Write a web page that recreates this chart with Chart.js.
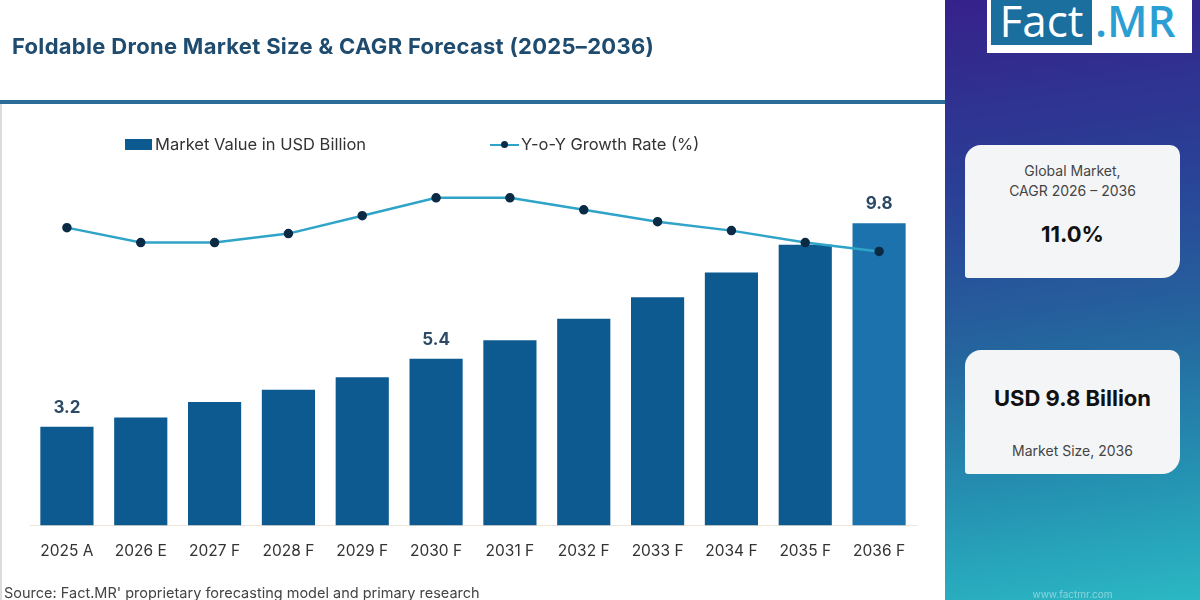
<!DOCTYPE html>
<html>
<head>
<meta charset="utf-8">
<script src="https://cdn.jsdelivr.net/npm/chart.js"></script>
<style>
  html, body { margin: 0; padding: 0; }
  body { width: 1200px; height: 600px; position: relative; overflow: hidden; background: #fff; font-family: Inter, "Open Sans", sans-serif; }
  #chartBox { position: absolute; left: 0; top: 0; width: 945px; height: 600px; }
  .title { position: absolute; left: 12px; top: 33px; font-size: 22px; font-weight: 700; color: #1e4b6e; white-space: nowrap; letter-spacing: 0.3px; }
  .rule { position: absolute; left: 0; top: 100px; width: 945px; height: 4px; background: #2a6b98; }
  .edge { position: absolute; left: 0; top: 104px; width: 2px; height: 496px; background: #dcdcdc; }
  .legend { position: absolute; top: 134px; font-size: 16.5px; color: #333; white-space: nowrap; line-height: 20px; }
  .legend .box { display: inline-block; width: 27px; height: 11px; background: #0c5a8f; vertical-align: middle; margin-right: 3px; position: relative; top: -1px; }
  .legend .ln { display: inline-block; width: 29px; height: 2px; background: #2fa4c8; vertical-align: middle; margin-right: 2px; position: relative; top: -1px; }
  .legend .ln i { position: absolute; left: 11px; top: -3px; width: 7px; height: 7px; border-radius: 50%; background: #0b2a45; }
  .source { position: absolute; left: 4px; top: 584px; font-size: 14.5px; color: #444; white-space: nowrap; }
  .panel { position: absolute; left: 945px; top: 0; width: 255px; height: 600px;
           background: linear-gradient(172deg, #36218a 0%, #2a3f96 30%, #24689f 58%, #2596b4 82%, #2bb8c3 100%); }
  .logo { position: absolute; left: 42px; top: 0; width: 205px; height: 53px; background: #fff; }
  .logo .fact { position: absolute; left: 4px; top: 0; width: 101px; height: 45px; background: #1a6f9e; color: #fff; font-family: "Open Sans", sans-serif; font-size: 44px; line-height: 40px; text-align: center; }
  .logo .mr { position: absolute; left: 108px; top: 0; height: 45px; color: #2b9fd4; font-family: "Open Sans", sans-serif; font-weight: 600; font-size: 44px; line-height: 40px; }
  .card { position: absolute; left: 20px; width: 215px; background: #f4f5f7; border-radius: 16px 10px 18px 3px; text-align: center; color: #333; }
  .card .small { font-size: 14px; color: #444; line-height: 20px; }
  .card .big { font-size: 22px; font-weight: 700; color: #111; }
  .web { position: absolute; left: 0; width: 255px; top: 588px; text-align: center; font-size: 10px; color: rgba(255,255,255,0.45); }
</style>
</head>
<body>
<div id="chartBox"><canvas id="chart" width="945" height="600"></canvas></div>
<div class="title">Foldable Drone Market Size &amp; CAGR Forecast (2025–2036)</div>
<div class="rule"></div>
<div class="edge"></div>
<div class="legend" style="left:125px"><span class="box"></span>Market Value in USD Billion</div>
<div class="legend" style="left:490px"><span class="ln"><i></i></span>Y-o-Y Growth Rate (%)</div>
<div class="source">Source: Fact.MR' proprietary forecasting model and primary research</div>
<div class="panel">
  <div class="logo"><div class="fact">Fact</div><div class="mr">.MR</div></div>
  <div class="card" style="top:145px;height:133px">
    <div class="small" style="margin-top:16px">Global Market,<br>CAGR 2026 – 2036</div>
    <div class="big" style="margin-top:20px">11.0%</div>
  </div>
  <div class="card" style="top:350px;height:124px">
    <div class="big" style="margin-top:35px">USD 9.8 Billion</div>
    <div class="small" style="margin-top:30px">Market Size, 2036</div>
  </div>
  <div class="web">www.factmr.com</div>
</div>
<script>
const years = ['2025 A', '2026 E', '2027 F', '2028 F', '2029 F', '2030 F', '2031 F', '2032 F', '2033 F', '2034 F', '2035 F', '2036 F']
const marketValue = [3.2, 3.5, 4.0, 4.4, 4.8, 5.4, 6.0, 6.7, 7.4, 8.2, 9.1, 9.8]
const growthRate = [10.0, 9.5, 9.5, 9.8, 10.4, 11.0, 11.0, 10.6, 10.2, 9.9, 9.5, 9.2]
const labelledBars = [0, 5, 11]

// value labels above a few of the bars
const valueLabels = {
  id: 'valueLabels',
  afterDatasetsDraw(chart) {
    var meta = chart.getDatasetMeta(1)
    var ctx = chart.ctx
    ctx.save()
    ctx.font = 'bold 17px Inter, sans-serif'
    ctx.fillStyle = '#2c4a66'
    ctx.textAlign = 'center'
    ctx.textBaseline = 'middle'
    labelledBars.forEach(function(i) {
      var bar = meta.data[i]
      ctx.fillText(marketValue[i].toFixed(1), bar.x, bar.y - 19)
    })
    ctx.restore()
  }
}

new Chart(document.getElementById('chart'), {
  type: 'bar',
  data: {
    labels: years,
    datasets: [{
      type: 'line',
      label: 'Y-o-Y Growth Rate (%)',
      data: growthRate,
      yAxisID: 'y2',
      borderColor: '#2fa4c8',
      borderWidth: 2.5,
      pointBackgroundColor: '#0b2a45',
      pointBorderColor: '#0b2a45',
      pointRadius: 3.5,
      tension: 0,
      order: 0
    }, {
      label: 'Market Value in USD Billion',
      data: marketValue,
      yAxisID: 'y',
      backgroundColor: function(c) {
        return c.dataIndex === years.length - 1 ? '#1b72ad' : '#0c5a8f'
      },
      categoryPercentage: 1,
      barPercentage: 0.72,
      order: 1
    }]
  },
  options: {
    responsive: false,
    animation: false,
    layout: { padding: { left: 30, right: 29, top: 180, bottom: 22 } },
    scales: {
      x: {
        grid: { display: false, drawTicks: false },
        border: { display: true, color: '#eee4da' },
        ticks: { color: '#333', font: { size: 15.5, family: 'Inter, sans-serif' }, padding: 17 }
      },
      y: { display: false, min: 0, max: 11.2 },
      y2: { display: false, min: 0, max: 11.6 }
    },
    plugins: {
      legend: { display: false },
      tooltip: { enabled: false }
    }
  },
  plugins: [valueLabels]
})
</script>
</body>
</html>
